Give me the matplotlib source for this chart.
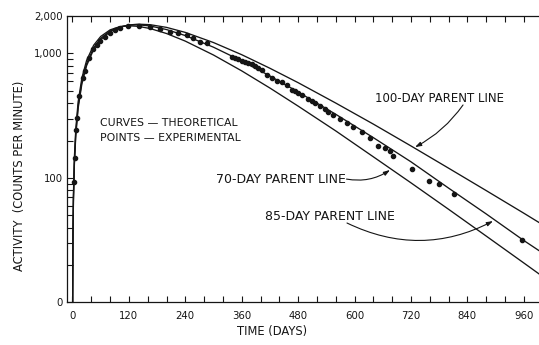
import matplotlib
matplotlib.use("Agg")
import matplotlib.pyplot as plt
import matplotlib.ticker as mticker

# time axis shared by the three theoretical curves (days)
days = [0.25, 1, 2, 4, 7, 12, 20, 30, 45, 60, 80, 100, 120, 140, 165, 200,
        240, 300, 360, 420, 480, 560, 640, 720, 800, 880, 960, 1000]

# activity (counts per minute)
line_100 = [8.2, 32.7, 64.9, 127.9, 219.1, 362.5, 570.9, 797.8, 1076, 1291,
            1496, 1625, 1695, 1720, 1704, 1621, 1477, 1224, 978, 761, 583,
            400, 271, 181, 120, 79.3, 52.2, 42.2]
line_85 = [8.7, 34.4, 68.2, 134.4, 229.8, 379.4, 595.4, 828.4, 1110, 1323,
           1518, 1634, 1690, 1699, 1664, 1557, 1393, 1123, 872, 660, 491,
           325, 211, 135, 83, 51.5, 31.5, 25.0]
line_70 = [9.4, 37.4, 74.2, 145.8, 248.9, 409.2, 637.7, 879.8, 1165, 1370,
           1548, 1640, 1669, 1652, 1587, 1447, 1257, 972, 725, 528, 378,
           239, 148, 91.5, 56.1, 34.2, 20.8, 16.2]

# experimental points
pts_days = [3.2, 5.3, 7.4, 9.6, 14.5, 21.7, 27.2, 35.7, 44.3, 51.5, 58.5, 69,
            79.8, 90.4, 101, 118.7, 142, 165, 186, 207, 225, 243, 257, 271,
            285.5, 338.7, 345.7, 352.8, 360, 367, 374, 381.3, 388.3, 395.3,
            402.6, 413.2, 423.8, 434.5, 445, 455.7, 466.4, 473.4, 480.4,
            487.7, 501.7, 509, 516, 526.6, 537.2, 544.3, 555, 569, 583.4,
            597.4, 615.3, 633, 650.6, 665, 675.5, 682.6, 721.7, 759, 780.4,
            812.3, 957]
pts_act = [93, 145, 244, 306, 455, 632, 722, 925, 1080, 1170, 1267, 1364,
           1452, 1544, 1593, 1672, 1672, 1641, 1564, 1496, 1452, 1407, 1324,
           1243, 1207, 942, 914, 898, 875, 859, 843, 819, 793, 769, 737, 672,
           632, 601, 593, 558, 509, 499, 484, 464, 431, 415, 402, 378, 356,
           341, 320, 296, 275, 258, 233, 208, 181, 175, 165, 150, 118, 95, 89,
           74, 31.8]

x_ticks = [0, 120, 240, 360, 480, 600, 720, 840, 960]
y_ticks = [10, 100, 1000, 2000]
y_tick_labels = ['0', '100', '1,000', '2,000']

ink = '#151515'

fig = plt.figure(figsize=(5.39, 3.45), dpi=100)
ax = fig.add_axes([0.1243, 0.1232, 0.8824, 0.8304])

for vals in (line_100, line_85, line_70):
    ax.plot(days, vals, color=ink, linewidth=0.95)
ax.plot(pts_days, pts_act, linestyle='none', marker='o', markersize=3.0,
        color=ink)

ax.set_yscale('log')
ax.set_xlim(-11.7, 1000.2)
ax.set_ylim(10, 2000)

ax.set_xticks(x_ticks)
ax.xaxis.set_minor_locator(mticker.MultipleLocator(40))
ax.set_yticks(y_ticks)
ax.set_yticklabels(y_tick_labels)
ax.yaxis.set_minor_locator(mticker.FixedLocator(
    [20, 30, 40, 50, 60, 70, 80, 90, 200, 300, 400, 500, 600, 700, 800, 900]))
ax.yaxis.set_minor_formatter(mticker.NullFormatter())

ax.tick_params(axis='x', which='both', direction='in', top=True, length=4,
               width=0.8, pad=6, labelsize=7.3, colors=ink)
ax.tick_params(axis='y', which='both', direction='in', length=4, width=0.8,
               pad=3, labelsize=7.3, colors=ink)
for sp in ax.spines.values():
    sp.set_linewidth(0.9)
    sp.set_color(ink)

fig.text(272 / 539, 1 - 331 / 345, 'TIME (DAYS)', ha='center', va='center',
         fontsize=8.3, color=ink)
fig.text(20 / 539, 1 - 176 / 345, 'ACTIVITY  (COUNTS PER MINUTE)',
         rotation=90, ha='center', va='center', fontsize=8.3, color=ink)

ax.text(58.5, 276, 'CURVES \u2014 THEORETICAL', fontsize=7.8, va='center',
        color=ink)
ax.text(58.5, 209, 'POINTS \u2014 EXPERIMENTAL', fontsize=7.8, va='center',
        color=ink)

arrow = '-|>,head_length=0.45,head_width=0.15'
ax.text(643.6, 431, '100-DAY PARENT LINE', fontsize=8.5, va='center',
        color=ink)
ax.annotate('', xy=(728.7, 177), xytext=(830.9, 386),
            arrowprops=dict(arrowstyle=arrow, color=ink, lw=0.8,
                            shrinkA=0, shrinkB=0,
                            connectionstyle='arc3,rad=-0.12'),
            fontsize=8.2)
ax.text(305, 98, '70-DAY PARENT LINE', fontsize=9.0, va='center', color=ink)
ax.annotate('', xy=(675.5, 116), xytext=(583, 98),
            arrowprops=dict(arrowstyle=arrow, color=ink, lw=0.8,
                            shrinkA=0, shrinkB=0,
                            connectionstyle='arc3,rad=0.2'),
            fontsize=8.2)
ax.text(409.6, 49.5, '85-DAY PARENT LINE', fontsize=9.0, va='center',
        color=ink)
ax.annotate('', xy=(894.7, 45.1), xytext=(584, 43.5),
            arrowprops=dict(arrowstyle=arrow, color=ink, lw=0.8,
                            shrinkA=0, shrinkB=0,
                            connectionstyle='arc3,rad=0.25'),
            fontsize=8.2)

fig.savefig('out.png', dpi=100)
